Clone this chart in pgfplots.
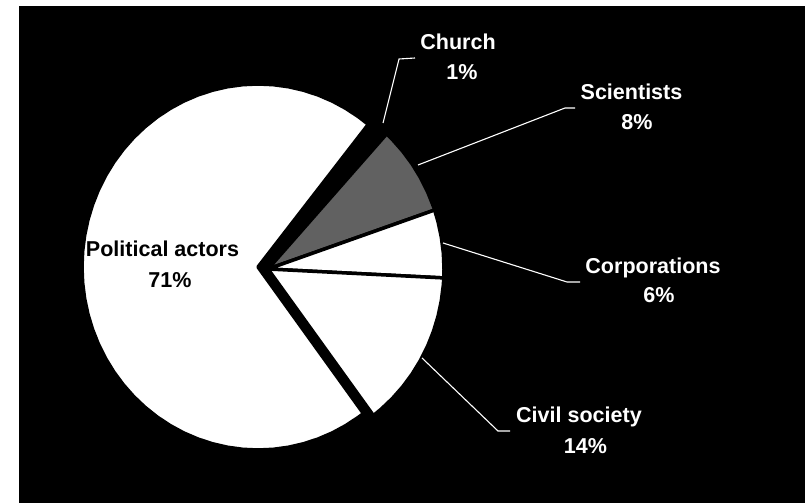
\documentclass[border=0pt]{standalone}
\usepackage{fontspec}
\setmainfont{Liberation Sans}
\usepackage{pgfplots}
\pgfplotsset{compat=1.18}
\tikzset{lab/.style={font=\fontsize{21.6}{25}\selectfont\bfseries, text=white, anchor=base, inner sep=0pt},
  lead/.style={white, line width=1.1bp}}
\begin{document}
\begin{tikzpicture}
\fill[white] (0,0) rectangle (805bp,503bp);
\fill[black] (19bp,0) rectangle (805bp,497bp);
\begin{axis}[at={(0,0)}, anchor=south west, width=805bp, height=503bp, scale only axis,
  xmin=-1.52273, xmax=3.05114, ymin=-1.27869, ymax=1.46995, axis lines=none, clip=false]
% Political actors 71% (exploded)
\addplot[data cs=polar, mark=none, fill=white, draw=black, line width=3.5bp, line join=round, line cap=round, xshift=-10bp, yshift=2bp]
 coordinates {(0,0) (51.2,1) (55,1) (60,1) (65,1) (70,1) (75,1) (80,1) (85,1) (90,1) (95,1) (100,1) (105,1) (110,1) (115,1) (120,1) (125,1) (130,1) (135,1) (140,1) (145,1) (150,1) (155,1) (160,1) (165,1) (170,1) (175,1) (180,1) (185,1) (190,1) (195,1) (200,1) (205,1) (210,1) (215,1) (220,1) (225,1) (230,1) (235,1) (240,1) (245,1) (250,1) (255,1) (260,1) (265,1) (270,1) (275,1) (280,1) (285,1) (290,1) (295,1) (300,1) (305,1) (306.8,1) (0,0)};
% Church 1%
\addplot[data cs=polar, mark=none, fill=black, draw=black, line width=3.5bp, line join=round, line cap=round]
 coordinates {(0,0) (47.6,1) (51.2,1) (0,0)};
% Scientists 8%
\addplot[data cs=polar, mark=none, fill=black!62, draw=black, line width=3.5bp, line join=round, line cap=round]
 coordinates {(0,0) (18.8,1) (20,1) (25,1) (30,1) (35,1) (40,1) (45,1) (47.6,1) (0,0)};
% Corporations 6%
\addplot[data cs=polar, mark=none, fill=white, draw=black, line width=3.5bp, line join=round, line cap=round]
 coordinates {(0,0) (-2.8,1) (0,1) (5,1) (10,1) (15,1) (18.8,1) (0,0)};
% Civil society 14%
\addplot[data cs=polar, mark=none, fill=white, draw=black, line width=3.5bp, line join=round, line cap=round]
 coordinates {(0,0) (-53.2,1) (-50,1) (-45,1) (-40,1) (-35,1) (-30,1) (-25,1) (-20,1) (-15,1) (-10,1) (-5,1) (-2.8,1) (0,0)};
% leader lines
\draw[lead] (axis cs:0.6534,0.7978) -- (axis cs:0.7443,1.1475) -- (axis cs:0.8352,1.1530);
\draw[lead] (axis cs:0.8523,0.5683) -- (axis cs:1.6875,0.8798) -- (axis cs:1.7443,0.8798);
\draw[lead] (axis cs:0.9943,0.1421) -- (axis cs:1.6989,-0.0710) -- (axis cs:1.7727,-0.0710);
\draw[lead] (axis cs:0.8750,-0.4863) -- (axis cs:1.3068,-0.8852) -- (axis cs:1.3750,-0.8852);
% labels
\node[lab] at (axis cs:1.0795,1.1967) {Church};
\node[lab] at (axis cs:1.1023,1.0328) {1\%};
\node[lab] at (axis cs:2.0653,0.9235) {Scientists};
\node[lab] at (axis cs:2.0966,0.7596) {8\%};
\node[lab] at (axis cs:2.1875,-0.0246) {Corporations};
\node[lab] at (axis cs:2.2216,-0.1858) {6\%};
\node[lab] at (axis cs:1.7670,-0.8415) {Civil society};
\node[lab] at (axis cs:1.8040,-1.0055) {14\%};
\node[lab, text=black] at (axis cs:-0.5994,0.0656) {Political actors};
\node[lab, text=black] at (axis cs:-0.5568,-0.0984) {71\%};
\end{axis}
\end{tikzpicture}
\end{document}
